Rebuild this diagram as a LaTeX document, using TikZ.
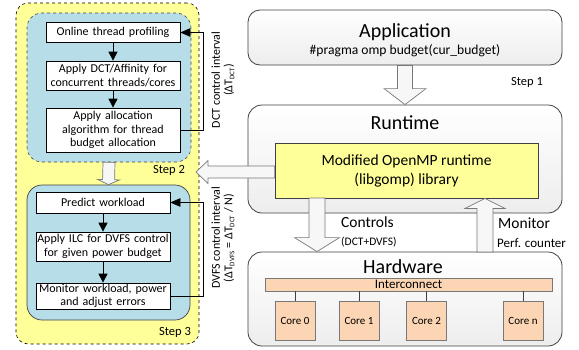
\documentclass[tikz,border=0pt]{standalone}
\usepackage{fontspec}
\setmainfont{Carlito}
\usetikzlibrary{arrows.meta,calc}
\definecolor{ylw}{RGB}{255,255,153}
\definecolor{lblue}{RGB}{183,222,232}
\definecolor{coref}{RGB}{252,213,180}
\definecolor{edge}{RGB}{64,64,64}
\definecolor{cedge}{RGB}{120,120,120}
\newcommand\harrow[5]{%
  \draw[hollow] let \p1=(#1), \p2=(#2), \n1={atan2(\y2-\y1,\x2-\x1)}, \n2={veclen(\x2-\x1,\y2-\y1)} in
   [shift={(\p1)}, rotate=\n1]
   (0pt,#3pt) -- ({\n2-#5pt},#3pt) -- ({\n2-#5pt},#4pt) -- ({\n2*1pt},0pt)
   -- ({\n2-#5pt},-#4pt) -- ({\n2-#5pt},-#3pt) -- (0pt,-#3pt) -- cycle;}
\tikzset{
  hollow/.style={draw=cedge, fill=gray!6, line width=0.7pt, line join=miter},
  wbox/.style={draw=black, fill=white, line width=0.7pt, inner sep=0pt, align=center,
     text width=134pt, minimum width=134pt, font=\fontsize{12}{13.5}\selectfont},
  gbox/.style={draw=edge, line width=0.8pt, top color=white, bottom color=gray!14,
     rounded corners=14pt, inner sep=0pt},
  flow/.style={draw=black, line width=0.7pt, -{Triangle[length=9pt,width=9pt]}},
  fb/.style={draw=black, line width=0.7pt, -{Triangle[length=10pt,width=8.5pt]}},
  steplbl/.style={font=\fontsize{12.5}{14}\selectfont, inner sep=0pt},
  core/.style={draw=cedge, fill=coref, line width=0.7pt, minimum width=40pt,
     minimum height=39pt, inner sep=0pt, font=\fontsize{11}{12}\selectfont},
  rotlbl/.style={rotate=90, align=center, inner sep=0pt, font=\fontsize{12}{12.5}\selectfont}
}
\begin{document}
\begin{tikzpicture}[x=1pt,y=-1pt]
\useasboundingbox (0,0) rectangle (579,349);
% left containers
\node[draw=black, dashed, fill=ylw, rounded corners=12pt, line width=0.6pt,
  minimum width=183pt, minimum height=341pt, inner sep=0pt] (outer) at (107.5,173.5) {};
\node[draw=edge, dashed, fill=lblue, rounded corners=15pt, line width=0.6pt,
  minimum width=164pt, minimum height=149pt, inner sep=0pt] (b1) at (109,87.5) {};
\node[draw=edge, fill=lblue, rounded corners=15pt, line width=0.7pt,
  minimum width=163pt, minimum height=135pt, inner sep=0pt] (b2) at (108.5,252.5) {};
\harrow{b1.south}{b2.north}{6}{11}{5}
% step 2 boxes
\node[wbox, minimum height=20pt] (w1) at (113,32.5) {Online thread profiling};
\node[wbox, minimum height=29pt] (w2) at (113,75.5) {Apply DCT/Affinity for\\concurrent threads/cores};
\node[wbox, minimum height=44pt] (w3) at (113,130) {Apply allocation\\algorithm for thread\\budget allocation};
\draw[flow] (w1) -- (w2);
\draw[flow] (w2) -- (w3);
\draw[fb] (w3.east) -- ++(23,0) |- (w1.east);
% step 3 boxes
\node[wbox, minimum height=21pt] (w4) at (103,202.5) {Predict workload};
\node[wbox, minimum height=29pt] (w5) at (103,246.5) {Apply ILC for DVFS control\\for given power budget};
\node[wbox, minimum height=26pt] (w6) at (103,296) {Monitor workload, power\\and adjust errors};
\draw[flow] (w4) -- (w5);
\draw[flow] (w5) -- (w6);
\draw[fb] (w6.east) -- ++(33,0) |- (w4.east);
\node[steplbl] (s2) at (169,170) {Step 2};
\node[steplbl] (s3) at (175,332) {Step 3};
\node[rotlbl] (dctl) at (223,80) {DCT control interval\\(ΔT\textsubscript{\fontsize{7}{7}\selectfont DCT})};
\node[rotlbl] (dvfsl) at (223,238) {DVFS control interval\\(ΔT\textsubscript{\fontsize{7}{7}\selectfont DVFS} = ΔT\textsubscript{\fontsize{7}{7}\selectfont DCT} / N)};
% right side
\node[gbox, minimum width=314pt, minimum height=55pt, rounded corners=12pt] (app) at (405,37.5) {};
\node[font=\fontsize{20}{22}\selectfont, inner sep=0pt] (appt) at (405,32) {Application};
\node[font=\fontsize{13.6}{15}\selectfont, inner sep=0pt] (pragma) at (405,51) {\#pragma omp budget(cur\_budget)};
\node[steplbl] (s1) at (527,82) {Step 1};
\node[gbox, minimum width=314pt, minimum height=108pt] (rt) at (405,159) {};
\node[font=\fontsize{20}{22}\selectfont, inner sep=0pt] (rtt) at (405,123) {Runtime};
\node[draw=edge, fill=ylw, line width=0.8pt, minimum width=263pt, minimum height=55pt, inner sep=0pt,
  align=center, font=\fontsize{15.5}{19}\selectfont] (lib) at (406.5,170.5) {Modified OpenMP runtime\\(libgomp) library};
\node[gbox, minimum width=314pt, minimum height=94pt] (hw) at (405,299) {};
\node[font=\fontsize{20}{22}\selectfont, inner sep=0pt] (hwt) at (403,267) {Hardware};
\node[draw=cedge, fill=coref, line width=0.7pt, minimum width=287pt, minimum height=13pt, inner sep=0pt,
  font=\fontsize{13}{13}\selectfont] (ic) at (408.5,284.5) {Interconnect};
\node[core] (c0) at (295,320.5) {Core 0};
\node[core] (c1) at (359,320.5) {Core 1};
\node[core] (c2) at (426.5,320.5) {Core 2};
\node[core] (cn) at (523,320.5) {Core n};
\foreach \c in {c0,c1,c2,cn} \draw[draw=edge, line width=0.7pt] (\c.north) -- (\c.north |- ic.south);
% hollow arrows
\harrow{app.south}{rt.north}{7.5}{21}{16}
\coordinate (tip2) at (196,172);
\harrow{lib.west |- tip2}{tip2}{6}{11.5}{12}
\coordinate (cs) at (317,198);
\harrow{cs}{cs |- hw.north}{8}{22.5}{14}
\coordinate (ms) at (485,252);
\harrow{ms}{ms |- lib.south}{8}{20}{10}
\node[anchor=west, font=\fontsize{15.5}{17}\selectfont, inner sep=0pt] (ctl) at (341,222) {Controls};
\node[anchor=west, font=\fontsize{11.5}{13}\selectfont, inner sep=0pt] (ctl2) at (341,242) {(DCT+DVFS)};
\node[anchor=west, font=\fontsize{15.5}{17}\selectfont, inner sep=0pt] (mon) at (498,223) {Monitor};
\node[anchor=west, font=\fontsize{13}{14}\selectfont, inner sep=0pt] (mon2) at (497,243) {Perf. counter};
\end{tikzpicture}
\end{document}
